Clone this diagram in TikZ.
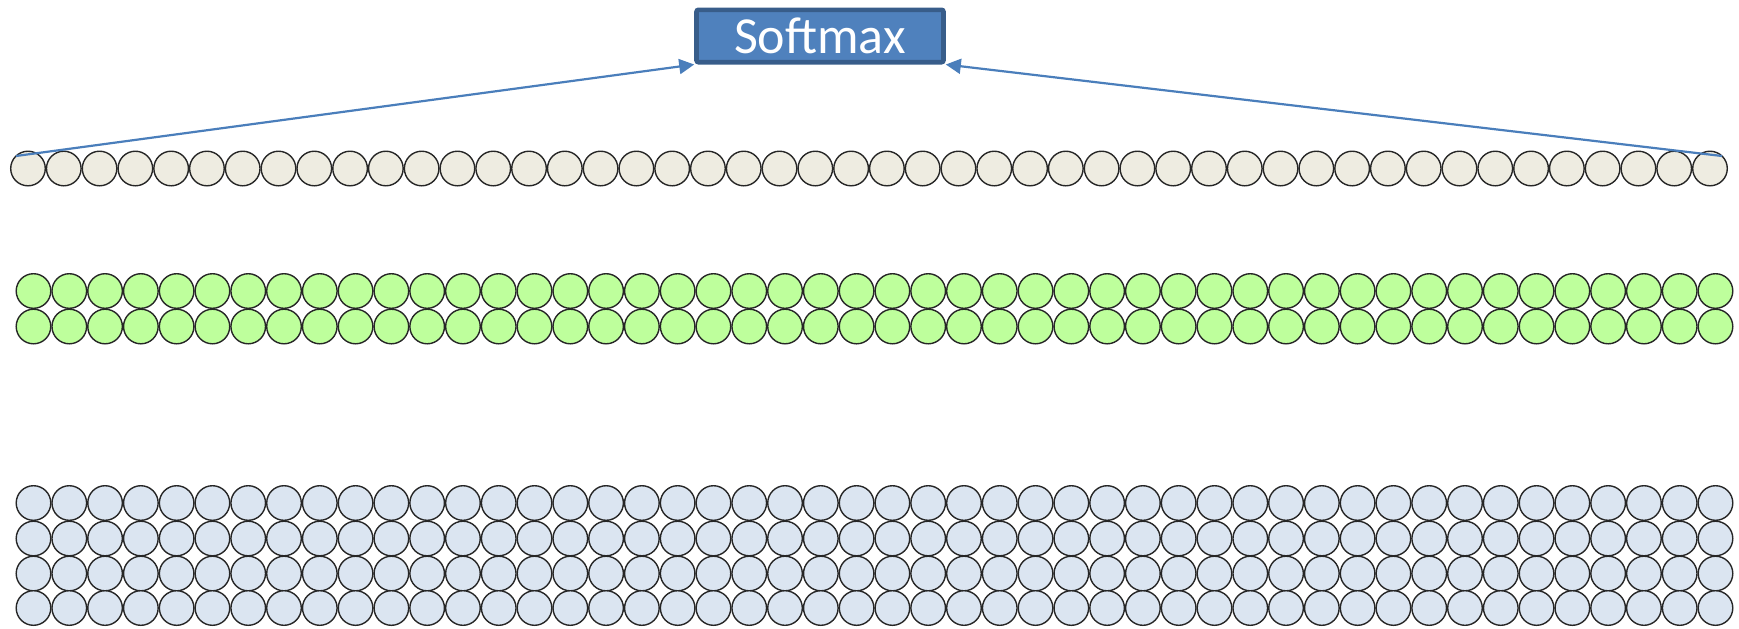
\documentclass[tikz,border=0pt]{standalone}
\usepackage{fontspec}
\setmainfont{Carlito}
\usetikzlibrary{arrows.meta}
\definecolor{beigefill}{HTML}{EEECE1}
\definecolor{greenfill}{HTML}{BEFF9C}
\definecolor{bluefill}{HTML}{DBE5F1}
\definecolor{boxfill}{HTML}{4F81BD}
\definecolor{boxline}{HTML}{385D8A}
\definecolor{arrowcol}{HTML}{4A7EBB}
\tikzset{
  unit/.style={circle, draw=black!85, line width=0.7pt, inner sep=0pt, minimum size=17.3pt},
  topunit/.style={unit, fill=beigefill},
  midunit/.style={unit, fill=greenfill},
  lowunit/.style={unit, fill=bluefill},
  softbox/.style={draw=boxline, fill=boxfill, line width=2.3pt, rounded corners=1pt,
    minimum width=123.5pt, minimum height=26.2pt, inner sep=0pt, text=white,
    font=\fontsize{26pt}{30pt}\selectfont},
  link/.style={draw=arrowcol, line width=1.1pt, -{Triangle[length=7.5pt,width=7.5pt]}}
}
\begin{document}
\begin{tikzpicture}[x=0.5pt,y=-0.5pt]
\useasboundingbox (0,0) rectangle (1739,628);
% top layer
\foreach \i in {0,...,47} {
  \node[topunit] (t\i) at ({28+\i*35.787},168.5) {};
}
% hidden layer 2 rows
\foreach \r/\yy in {1/291,2/326.5} {
  \foreach \i in {0,...,47} {
    \node[midunit] (g\r-\i) at ({33.5+\i*35.787},\yy) {};
  }
}
% input layer 4 rows
\foreach \r/\yy in {1/503,2/538.5,3/573.5,4/608} {
  \foreach \i in {0,...,47} {
    \node[lowunit] (b\r-\i) at ({33.5+\i*35.787},\yy) {};
  }
}
\node[softbox] (sm) at (820,36) {Softmax};
\coordinate (ls) at (16,156);
\coordinate (rs) at (1722,156);
\draw[link] (ls) -- (sm.south west);
\draw[link] (rs) -- (sm.south east);
\end{tikzpicture}
\end{document}
